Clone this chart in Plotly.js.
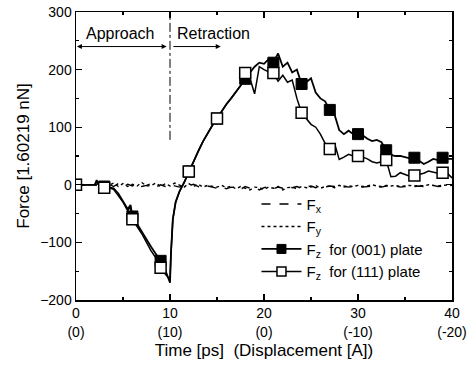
<!DOCTYPE html>
<html><head><meta charset="utf-8">
<script src="https://cdn.plot.ly/plotly-3.0.1.min.js"></script>
<style>body{margin:0;background:#fff}#c{width:471px;height:367px}</style>
</head><body><div id="c"></div>
<script>
// Fz curves (time in ps)
var tZ = [0,0.5,1,1.5,2,2.2,2.5,3,3.5,4,
4.5,5,5.5,5.8,6,6.5,7,7.5,8,8.5,
9,9.5,10,10.1,10.3,10.6,11,11.5,12,12.5,
13,13.5,14,14.5,15,15.5,16,16.5,17,17.5,
18,18.5,19,19.5,20,20.5,21,21.5,22,22.5,
23,23.5,24,24.5,25,25.5,26,26.5,27,27.5,
28,28.5,29,29.5,30,30.5,31,31.5,32,32.5,
33,33.5,34,34.5,35,35.5,36,36.5,37,37.5,
38,38.5,39,39.5,40];
var fz001 = [0,0,0,0,0,8,-2,-3,-4,-6,
-15,-28,-42,-35,-55,-68,-82,-95,-108,-120,
-132,-148,-170,-120,-60,-30,-12,4,23,40,
58,75,90,103,115,128,140,150,160,172,
184,195,205,212,210,218,212,228,205,212,
195,200,175,178,185,160,150,145,130,122,
95,88,94,88,88,86,80,76,78,74,
60,52,50,50,48,46,47,42,36,40,
45,43,47,45,45];
var fz111 = [0,0,0,0,0,6,-3,-5,-5,-8,
-18,-30,-45,-38,-60,-72,-85,-100,-115,-127,
-144,-155,-165,-120,-60,-30,-12,4,23,40,
58,75,90,103,115,128,140,150,160,172,
194,185,158,205,200,196,194,180,190,178,
182,150,125,115,105,100,88,72,62,72,
44,48,53,50,50,48,45,40,38,40,
43,14,15,21,18,15,16,18,20,24,
22,20,21,20,12];
// marker positions
var tMark = [0,3,6,9,12,15,18,21,24,27,30,33,36,39];
var mark001 = [0,-3,-55,-132,23,115,184,212,175,130,88,60,47,47];
var mark111 = [0,-5,-60,-144,23,115,194,194,125,62,50,43,16,21];
// Fx, Fy
var tXY = [0,0.5,1,1.5,2,2.5,3,3.5,4,4.5,
5,5.5,6,6.5,7,7.5,8,8.5,9,9.5,
10,10.5,11,11.5,12,12.5,13,13.5,14,14.5,
15,15.5,16,16.5,17,17.5,18,18.5,19,19.5,
20,20.5,21,21.5,22,22.5,23,23.5,24,24.5,
25,25.5,26,26.5,27,27.5,28,28.5,29,29.5,
30,30.5,31,31.5,32,32.5,33,33.5,34,34.5,
35,35.5,36,36.5,37,37.5,38,38.5,39,39.5,40];
var fx = [0,0,0,0,0,3,-2,1,-3,2,
-4,1,-2,3,-3,-1,2,-4,0,-3,
1,-2,-4,0,-2,1,-3,-5,-2,-4,
-6,-3,-7,-4,-5,-8,-3,-6,-4,-9,
-5,-3,-7,-4,-6,-2,-5,-3,-6,-4,
-2,-5,-3,-4,-2,-3,-5,-2,-4,-3,
-2,-4,-3,-2,-3,-4,-2,-3,-2,-4,
-3,-2,-3,-2,-3,-2,-1,-3,-2,-2,-1];
var fy = [0,0,0,0,0,-2,2,-1,3,-3,
2,-3,1,-2,4,-2,-1,3,-3,2,
-2,3,-1,-4,2,-3,1,-4,-1,-3,
-4,-1,-5,-2,-7,-3,-6,-9,-4,-5,
-8,-4,-6,-3,-9,-5,-4,-7,-3,-5,
-4,-1,-6,-3,-2,-5,-1,-4,-2,-3,
-1,-3,-2,0,-2,-3,-1,-2,-1,-3,
-2,-1,-2,-1,-2,0,-1,-2,-1,-1,0];
var xTickVals = [0,10,20,30,40];
var xTickText = ['0<br>(0)','10<br>(10)','20<br>(0)','30<br>(-10)','40<br>(-20)'];
var legendNames = ['F<sub>x</sub>','F<sub>y</sub>','F<sub>z</sub>  for (001) plate','F<sub>z</sub>  for (111) plate'];

var K = '#000';
var traces = [
 {x:tXY,y:fx,mode:'lines',line:{color:K,width:1.4,dash:'dash'},name:legendNames[0]},
 {x:tXY,y:fy,mode:'lines',line:{color:K,width:1.4,dash:'dot'},name:legendNames[1]},
 {x:tZ,y:fz001,mode:'lines',line:{color:K,width:1.8},showlegend:false,hoverinfo:'skip'},
 {x:tZ,y:fz111,mode:'lines',line:{color:K,width:1.5},showlegend:false,hoverinfo:'skip'},
 {x:tMark,y:mark001,mode:'markers',marker:{symbol:'square',size:11,color:K,line:{color:K,width:1}},showlegend:false},
 {x:tMark,y:mark111,mode:'markers',marker:{symbol:'square',size:11,color:'#fff',line:{color:K,width:1.5}},showlegend:false},
 {x:[null],y:[null],mode:'lines+markers',line:{color:K,width:1.8},marker:{symbol:'square',size:9,color:K,line:{color:K,width:1}},name:legendNames[2]},
 {x:[null],y:[null],mode:'lines+markers',line:{color:K,width:1.5},marker:{symbol:'square',size:9,color:'#fff',line:{color:K,width:1.5}},name:legendNames[3]}
];
var ax = {showline:true,linecolor:K,linewidth:1.5,mirror:'ticks',ticks:'inside',ticklen:6,tickwidth:1.2,tickcolor:K,
  showgrid:false,zeroline:false,tickfont:{size:14,color:K}};
var layout = {
 width:471,height:367,paper_bgcolor:'#fff',plot_bgcolor:'#fff',
 font:{family:'Liberation Sans, Arial, sans-serif',color:K},
 margin:{l:76,r:19,t:12,b:67},
 showlegend:true,
 legend:{x:0.48,y:0.39,xanchor:'left',yanchor:'top',bgcolor:'rgba(0,0,0,0)',font:{size:15},tracegroupgap:0,itemwidth:40},
 xaxis:Object.assign({},ax,{range:[0,40],tickvals:xTickVals,ticktext:xTickText,
   minor:{ticks:'inside',ticklen:3,tickcolor:K,dtick:5,tick0:0},
   title:{text:'Time [ps]  (Displacement [A])',font:{size:17},standoff:5}}),
 yaxis:Object.assign({},ax,{range:[-200,300],dtick:100,
   minor:{ticks:'inside',ticklen:3,tickcolor:K,dtick:50,tick0:0},
   title:{text:'Force [1.60219 nN]',font:{size:17},standoff:6}}),
 shapes:[{type:'line',xref:'x',yref:'y',x0:10,x1:10,y0:78,y1:300,line:{color:K,width:1,dash:'dashdot'}}],
 annotations:[
  {x:4.7,y:263,xref:'x',yref:'y',text:'Approach',showarrow:false,font:{size:16}},
  {x:14.6,y:263,xref:'x',yref:'y',text:'Retraction',showarrow:false,font:{size:16}},
  {x:0.1,y:240,ax:9.8,ay:240,xref:'x',yref:'y',axref:'x',ayref:'y',text:'',showarrow:true,arrowhead:2,arrowside:'end+start',arrowsize:1,arrowwidth:1,arrowcolor:K},
  {x:15.4,y:240,ax:10.2,ay:240,xref:'x',yref:'y',axref:'x',ayref:'y',text:'',showarrow:true,arrowhead:2,arrowsize:1,arrowwidth:1,arrowcolor:K}
 ]
};
Plotly.newPlot('c',traces,layout,{displayModeBar:false,staticPlot:true});
</script></body></html>
